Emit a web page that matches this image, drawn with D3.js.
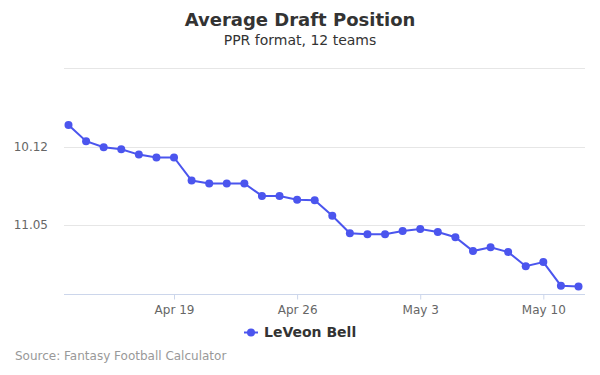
<!DOCTYPE html>
<html>
<head>
<meta charset="utf-8">
<script src="https://cdn.jsdelivr.net/npm/d3@7"></script>
<style>
  body { margin: 0; background: #fff; }
  text { font-family: "DejaVu Sans", sans-serif; }
</style>
</head>
<body>
<div id="chart"></div>
<script>
// ADP in overall picks (12 teams), shown as round.pick
var dates = ["2021-04-13","2021-04-14","2021-04-15","2021-04-16","2021-04-17","2021-04-18",
  "2021-04-19","2021-04-20","2021-04-21","2021-04-22","2021-04-23","2021-04-24","2021-04-25",
  "2021-04-26","2021-04-27","2021-04-28","2021-04-29","2021-04-30","2021-05-01","2021-05-02",
  "2021-05-03","2021-05-04","2021-05-05","2021-05-06","2021-05-07","2021-05-08","2021-05-09",
  "2021-05-10","2021-05-11","2021-05-12"];
var adp = [118.63,119.66,120.04,120.17,120.51,120.69,120.69,122.16,122.35,122.35,122.35,
  123.14,123.14,123.38,123.42,124.40,125.51,125.58,125.58,125.37,125.24,125.43,125.77,
  126.65,126.41,126.71,127.61,127.35,128.85,128.91];
var yTicks = [115, 120, 125];
var xTicks = ["2021-04-19","2021-04-26","2021-05-03","2021-05-10"];
var seriesName = "LeVeon Bell";

var width = 600, height = 375;
var plot = {left: 64, right: 585, top: 68, bottom: 294};
var color = "#4b55ee";
var parse = d3.timeParse("%Y-%m-%d");

var data = dates.map(function(d, i){ return {date: parse(d), v: adp[i]}; });

var svg = d3.select("#chart").append("svg")
  .attr("width", width)
  .attr("height", height);

var x = d3.scaleTime()
  .domain([parse(dates[0]), parse(dates[dates.length - 1])])
  .range([68.5, 578.5]);

var y = d3.scaleLinear()
  .domain([115, 129.38])
  .range([plot.top, plot.bottom]);

function fmtPick(p){
  var r = Math.floor((p - 1) / 12) + 1;
  var k = p - (r - 1) * 12;
  return r + "." + (k < 10 ? "0" + k : k);
}

// gridlines
svg.append("g")
  .selectAll("line")
  .data(yTicks)
  .enter().append("line")
  .attr("x1", plot.left)
  .attr("x2", plot.right)
  .attr("y1", function(d){ return Math.round(y(d)) + 0.5; })
  .attr("y2", function(d){ return Math.round(y(d)) + 0.5; })
  .attr("stroke", "#e6e6e6");

// y labels (first one hidden)
svg.append("g")
  .selectAll("text")
  .data(yTicks.slice(1))
  .enter().append("text")
  .attr("x", 48)
  .attr("y", function(d){ return y(d) + 4; })
  .attr("text-anchor", "end")
  .style("font-size", "12px")
  .style("fill", "#666")
  .text(fmtPick);

// x axis
var xAxis = d3.axisBottom(x)
  .tickValues(xTicks.map(parse))
  .tickFormat(d3.timeFormat("%b %-d"))
  .tickSize(5)
  .tickPadding(6);

var gx = svg.append("g")
  .attr("transform", "translate(0," + (plot.bottom + 0.5) + ")")
  .call(xAxis);
gx.select(".domain").remove();
gx.append("line")
  .attr("x1", plot.left)
  .attr("x2", plot.right)
  .attr("stroke", "#ccd6eb");
gx.selectAll(".tick line").attr("stroke", "#ccd6eb");
gx.selectAll(".tick text")
  .style("font-family", "DejaVu Sans, sans-serif")
  .style("font-size", "12px")
  .style("fill", "#666");

// line
var line = d3.line()
  .x(function(d){ return x(d.date); })
  .y(function(d){ return y(d.v); });

svg.append("path")
  .datum(data)
  .attr("d", line)
  .attr("fill", "none")
  .attr("stroke", color)
  .attr("stroke-width", 2);

svg.append("g")
  .selectAll("circle")
  .data(data)
  .enter().append("circle")
  .attr("cx", function(d){ return x(d.date); })
  .attr("cy", function(d){ return y(d.v); })
  .attr("r", 4)
  .attr("fill", color);

// title
svg.append("text")
  .attr("x", width / 2)
  .attr("y", 26)
  .attr("text-anchor", "middle")
  .style("font-size", "18px")
  .style("font-weight", "bold")
  .style("fill", "#333")
  .text("Average Draft Position");

svg.append("text")
  .attr("x", width / 2)
  .attr("y", 45)
  .attr("text-anchor", "middle")
  .style("font-size", "14px")
  .style("fill", "#333")
  .text("PPR format, 12 teams");

// legend
var lg = svg.append("g").attr("transform", "translate(244,332)");
lg.append("line")
  .attr("x1", 0).attr("x2", 14)
  .attr("y1", 0.5).attr("y2", 0.5)
  .attr("stroke", color)
  .attr("stroke-width", 2);
lg.append("circle")
  .attr("cx", 7).attr("cy", 0.5).attr("r", 4)
  .attr("fill", color);
lg.append("text")
  .attr("x", 20)
  .attr("y", 5)
  .style("font-size", "14px")
  .style("font-weight", "bold")
  .style("fill", "#333")
  .text(seriesName);

// source
svg.append("text")
  .attr("x", 15)
  .attr("y", 360)
  .style("font-size", "12px")
  .style("fill", "#999")
  .text("Source: Fantasy Football Calculator");
</script>
</body>
</html>
